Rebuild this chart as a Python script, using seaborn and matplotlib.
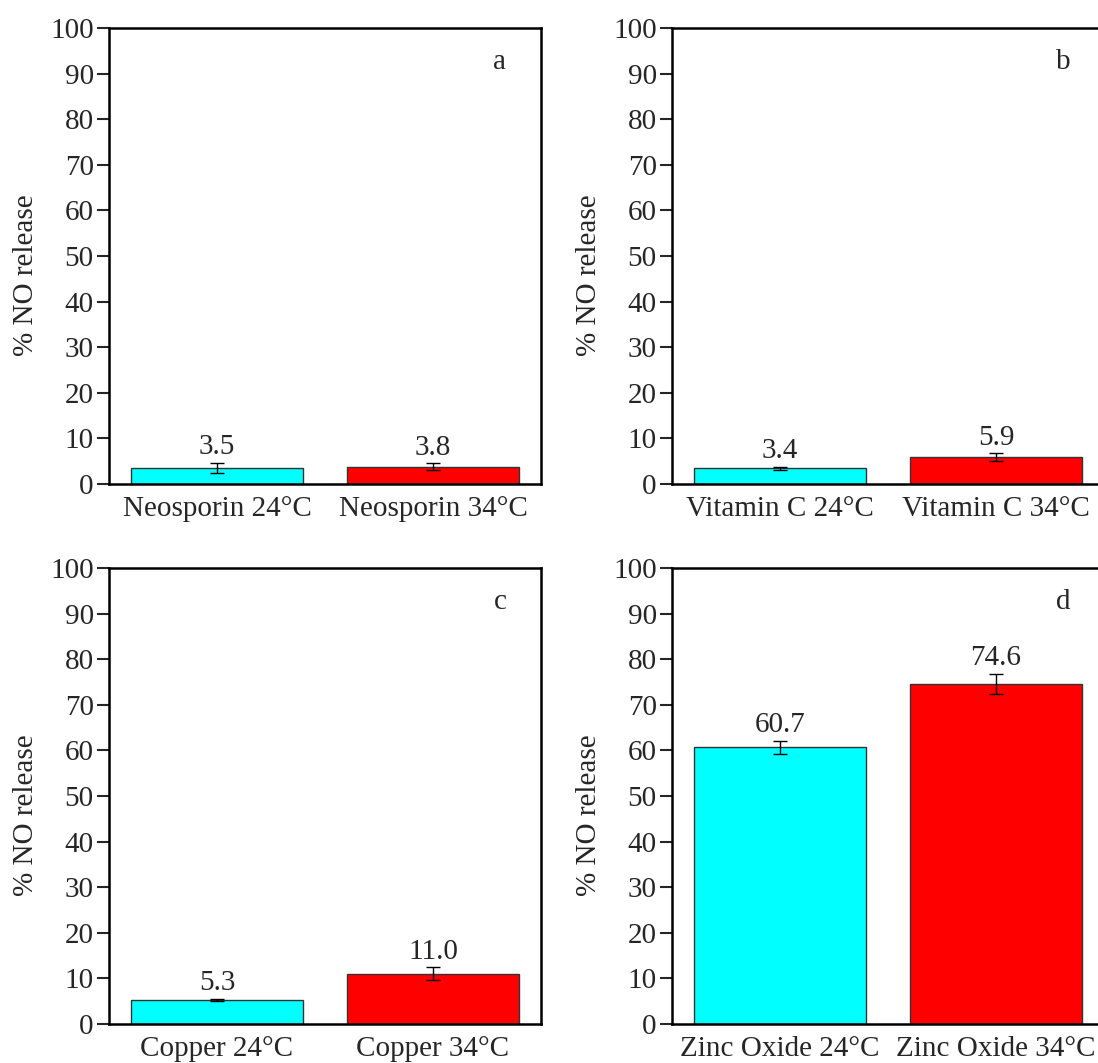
import pandas as pd
import matplotlib.pyplot as plt
import seaborn as sns

# data per panel: labels, means, error (±)
labels_a = ['Neosporin 24°C', 'Neosporin 34°C']
means_a = [3.5, 3.8]
errs_a = [1.2, 0.7]

labels_b = ['Vitamin C 24°C', 'Vitamin C 34°C']
means_b = [3.4, 5.9]
errs_b = [0.3, 0.8]

labels_c = ['Copper 24°C', 'Copper 34°C']
means_c = [5.3, 11.0]
errs_c = [0.2, 1.4]

labels_d = ['Zinc Oxide 24°C', 'Zinc Oxide 34°C']
means_d = [60.7, 74.6]
errs_d = [1.4, 2.2]

panel_letters = ['a', 'b', 'c', 'd']
colors = ['#00FFFF', '#FF0000']

sns.set_style('ticks')
plt.rcParams['font.family'] = ['Liberation Serif', 'DejaVu Serif']
FS = 21

fig = plt.figure(figsize=(10.98, 10.63), dpi=100)

# axes positions in figure fractions (left, bottom, width, height)
positions = [
    [0.0993, 0.5447, 0.3934, 0.429],
    [0.612, 0.5447, 0.3934, 0.429],
    [0.0993, 0.0367, 0.3934, 0.429],
    [0.612, 0.0367, 0.3934, 0.429],
]

panels = [
    (labels_a, means_a, errs_a),
    (labels_b, means_b, errs_b),
    (labels_c, means_c, errs_c),
    (labels_d, means_d, errs_d),
]

for pos, (labels, means, errs), letter in zip(positions, panels, panel_letters):
    ax = fig.add_axes(pos)
    df = pd.DataFrame({'cond': labels, 'value': means})
    sns.barplot(data=df, x='cond', y='value', hue='cond', palette=colors,
                saturation=1, edgecolor='#333333', linewidth=1, width=0.8,
                legend=False, errorbar=None, ax=ax)

    for patch, m, e in zip(ax.patches, means, errs):
        xc = patch.get_x() + patch.get_width() / 2
        ax.errorbar(xc, m, yerr=e, fmt='none', ecolor='black',
                    elinewidth=1, capsize=5, capthick=1)
        ax.text(xc, m + e + 0.6, f'{m:.1f}', ha='center', va='bottom',
                fontsize=FS)

    ax.set_xlim(-0.5, 1.5)
    ax.set_ylim(0, 100)
    ax.set_yticks(range(0, 101, 10))
    ax.set_xlabel('')
    ax.set_ylabel('% NO release', fontsize=FS)
    ax.yaxis.set_label_coords(-0.163, 0.458)
    ax.tick_params(axis='y', direction='out', length=9, width=1.5,
                   labelsize=FS, pad=2)
    ax.tick_params(axis='x', length=0, labelsize=FS, pad=9)
    for sp in ax.spines.values():
        sp.set_visible(True)
        sp.set_linewidth(1.8)
        sp.set_color('black')
    ax.text(0.905, 0.925, letter, transform=ax.transAxes, ha='center',
            va='center', fontsize=FS)

fig.savefig('out.png', dpi=100)
